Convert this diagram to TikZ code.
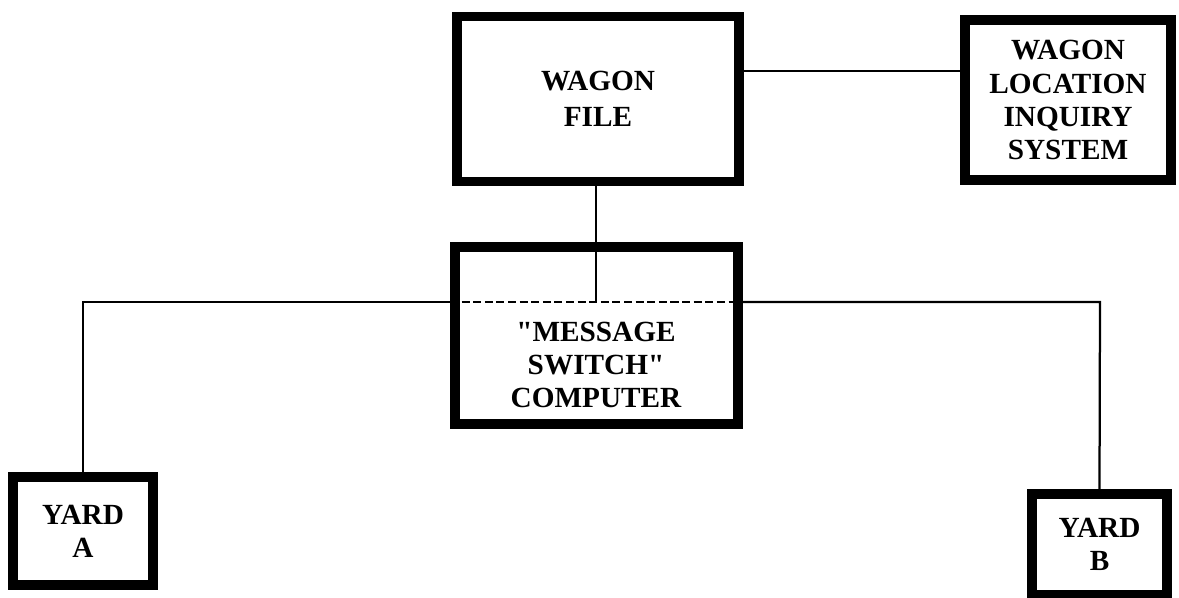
\documentclass[tikz,border=0pt]{standalone}
\usepackage{fontspec}
\setmainfont{Liberation Serif}[Ligatures=TeXOff]
\usetikzlibrary{positioning,calc}

\begin{document}
\begin{tikzpicture}[x=0.025cm, y=-0.025cm,
    boxnode/.style={draw=black, line width=7pt, inner sep=0pt, align=center,
      font=\bfseries\fontsize{20.8}{23.5}\selectfont},
    labeltext/.style={inner sep=0pt, align=center, font=\bfseries\fontsize{20.8}{23.5}\selectfont},
    wire/.style={draw=black, line width=1.6pt},
    buswire/.style={wire, dash pattern=on 0.2cm off 0.09cm}]
  \useasboundingbox (0,0) rectangle (1179,598);

  % Boxes
  \node[boxnode, minimum width=7.05cm, minimum height=4.125cm,
        font=\bfseries\fontsize{20.8}{25.5}\selectfont] (wagonfile) at (598,99) {WAGON\\FILE};
  \node[boxnode, minimum width=5.15cm, minimum height=4.0cm] (inquiry) at (1068,100)
        {WAGON\\LOCATION\\INQUIRY\\SYSTEM};
  \node[boxnode, minimum width=7.075cm, minimum height=4.425cm] (msgswitch) at (596.5,335.5) {};
  \node[labeltext] (msgtext) at (596,365) {"MESSAGE\\SWITCH"\\COMPUTER};
  \node[boxnode, minimum width=3.5cm, minimum height=2.7cm] (yarda) at (83,531) {YARD\\A};
  \node[boxnode, minimum width=3.375cm, minimum height=2.525cm] (yardb) at (1099.5,544.5) {YARD\\B};

  % Bus coordinates
  \coordinate (busleft) at (83,302);
  \coordinate (busright) at (1100,302);
  \coordinate (bustap) at (596,302);
  \coordinate (querylink) at (850,71);

  % Connectors
  \draw[wire] (wagonfile.east |- querylink) -- (inquiry.west |- querylink);
  \draw[wire] (bustap |- wagonfile.south) -- (bustap);
  \draw[wire] (yarda.north) -- (busleft) -- (msgswitch.west |- busleft);
  \draw[buswire] (msgswitch.west |- busleft) -- (msgswitch.east |- busright);
  \draw[wire] (msgswitch.east |- busright) -- (busright) -- (yardb.north);
\end{tikzpicture}
\end{document}
